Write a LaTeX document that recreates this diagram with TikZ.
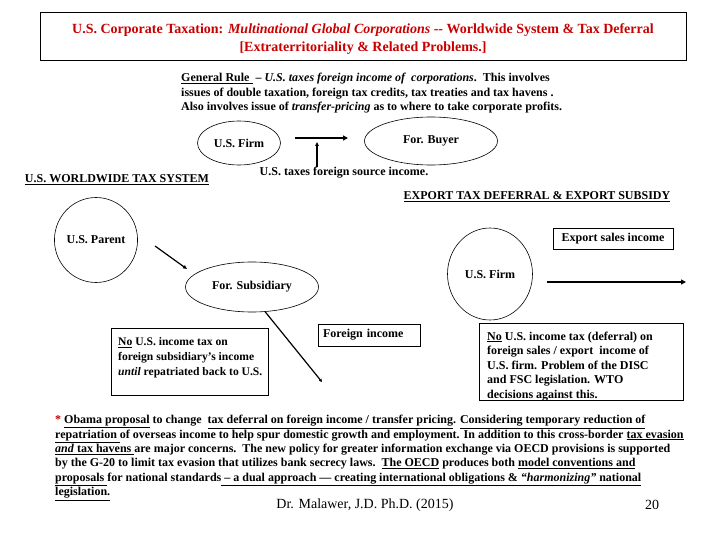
\documentclass[tikz,border=0pt]{standalone}
\usepackage{fontspec}
\setmainfont{Liberation Serif}
\usetikzlibrary{shapes.geometric,arrows.meta}
\definecolor{titlered}{RGB}{200,0,0}
\newcommand{\myul}[1]{\underline{#1}}
\begin{document}
\begin{tikzpicture}[x=1pt,y=-1pt,
  base/.style={inner sep=0pt, font=\fontsize{12}{14.5}\selectfont\bfseries},
  para/.style={base, align=left, anchor=north west},
  ell/.style={ellipse, draw, line width=0.6pt, inner sep=0pt, font=\fontsize{12}{14}\selectfont\bfseries},
  box/.style={draw, line width=0.8pt, rectangle, inner sep=0pt},
  head/.style={base, font=\fontsize{12}{14}\selectfont\bfseries},
  bigarrow/.style={line width=1.8pt, -{Triangle[length=5pt,width=5pt]}},
  slimarrow/.style={line width=1.2pt, -{Triangle[length=4pt,width=3.5pt]}}]
\useasboundingbox (0,0) rectangle (720,540);

% title
\node[box, minimum width=646pt, minimum height=48pt] (titlebox) at (363,36) {};
\node[inner sep=0pt, align=center, text=titlered,
      font=\fontsize{14}{18}\selectfont\bfseries] (title) at (363,39.5)
  {U.S. Corporate Taxation: \textit{Multinational Global Corporations} -{}- Worldwide System \& Tax Deferral\\{[Extraterritoriality \& Related Problems.]}};

% general rule
\node[para] (rule) at (181,73)
  {\myul{General Rule }\ -- \textit{U.S. taxes foreign income of\ \ corporations}.\ \ This involves\\
   issues of double taxation, foreign tax credits, tax treaties and tax havens .\\
   Also involves issue of \textit{transfer-pricing} as to where to take corporate profits.};

% top diagram
\node[ell, minimum width=83pt, minimum height=44pt] (usfirm) at (239,143) {U.S. Firm};
\node[ell, minimum width=133pt, minimum height=48pt] (forbuyer) at (431,141) {For. Buyer};
\node[head] (taxlabel) at (344,173) {U.S. taxes foreign source income.};
\coordinate (a1s) at (295,138);
\coordinate (a1e) at (348,138);
\coordinate (a2e) at (317,142);
\draw[bigarrow] (a1s) -- (a1e);
\draw[slimarrow] (taxlabel.north -| a2e) -- (a2e);

% headings
\node[head] (wwhead) at (117,180) {\myul{U.S. WORLDWIDE TAX SYSTEM}};
\node[head] (exphead) at (537,197) {\myul{EXPORT TAX DEFERRAL \& EXPORT SUBSIDY}};

% worldwide system
\node[ell, minimum width=62pt, minimum height=85pt] (usparent) at (96,240) {U.S. Parent};
\node[ell, minimum width=133pt, minimum height=50pt] (forsub) at (252,287) {For. Subsidiary};
\coordinate (b1s) at (155,246);
\coordinate (b1e) at (187,269);
\draw[slimarrow] (b1s) -- (b1e);
\coordinate (b2e) at (322,382);
\draw[line width=1.2pt, -{Triangle[length=3pt,width=3pt]}] (forsub.-62) -- (b2e);

\node[box, anchor=north west, minimum width=157pt, minimum height=67pt] (leftbox) at (111,328) {};
\node[para, font=\fontsize{11.6}{15}\selectfont\bfseries] (lefttext) at (118,337.5)
  {\myul{No} U.S. income tax on\\ foreign subsidiary’s income\\ \textit{until} repatriated back to U.S.};

\node[box, base, minimum height=22pt, text width=92pt, inner xsep=5pt, align=left] (forinc) at (369,335) {Foreign income};

% export
\node[ell, minimum width=85pt, minimum height=92pt] (usfirm2) at (490,274) {U.S. Firm};
\node[box, base, minimum width=120pt, minimum height=21pt] (expsales) at (613,238.5) {Export sales income};
\coordinate (c1s) at (547,282);
\coordinate (c1e) at (686,282);
\draw[bigarrow] (c1s) -- (c1e);

\node[box, anchor=north west, minimum width=204pt, minimum height=77pt] (rightbox) at (479,323) {};
\node[para] (righttext) at (487,331.5)
  {\myul{No} U.S. income tax (deferral) on\\ foreign sales / export\ \ income of\\ U.S. firm. Problem of the DISC\\ and FSC legislation. WTO\\ decisions against this.};

% bottom paragraph
\node[para, font=\fontsize{12}{14.4}\selectfont\bfseries] (note) at (55,415)
  {{\color{titlered}*} \myul{Obama proposal} to change\ \ \myul{tax deferral on foreign income / transfer pricing}. \myul{Considering temporary reduction of}\\
   \myul{repatriation }of overseas income to help spur domestic growth and employment. In addition to this cross-border \myul{tax evasion}\\
   \myul{\textit{and} tax havens }are major concerns.\ \ The new policy for greater information exchange via OECD provisions is supported\\
   by the G-20 to limit tax evasion that utilizes bank secrecy laws.\ \ \myul{The OECD} produces both \myul{model conventions and}\\
   \myul{proposals }for national standards\myul{ – a dual approach — creating international obligations \& \textit{“harmonizing”} national}\\
   \myul{legislation.}};

\node[inner sep=0pt, font=\fontsize{14}{16}\selectfont] (author) at (365,505) {Dr. Malawer, J.D. Ph.D. (2015)};
\node[inner sep=0pt, font=\fontsize{14}{16}\selectfont] (pagenum) at (652,505) {20};
\end{tikzpicture}
\end{document}
